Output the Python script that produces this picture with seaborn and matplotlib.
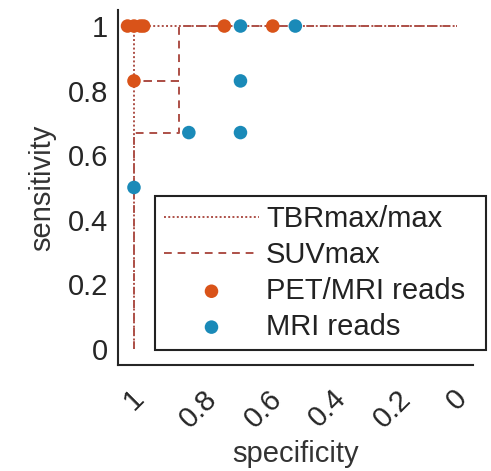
import matplotlib
matplotlib.use("Agg")
import matplotlib.pyplot as plt
import seaborn as sns
import pandas as pd

# ROC step curves (specificity, sensitivity)
tbr_spec = [1.0, 1.0, 0.0]
tbr_sens = [0.0, 1.0, 1.0]
suv_spec = [1.0, 1.0, 0.86, 0.86, 1.0, 0.86, 0.86, 0.0]
suv_sens = [0.0, 0.67, 0.67, 0.83, 0.83, 0.83, 1.0, 1.0]

# reader operating points
petmri_spec = [1.02, 1.0, 0.98, 0.97, 1.0, 0.72, 0.57]
petmri_sens = [1.0, 1.0, 1.0, 1.0, 0.83, 1.0, 1.0]
mri_spec = [0.67, 0.50, 0.67, 0.83, 0.67, 1.0]
mri_sens = [1.0, 1.0, 0.83, 0.67, 0.67, 0.5]

x_ticks = [1, 0.8, 0.6, 0.4, 0.2, 0]
y_ticks = [0, 0.2, 0.4, 0.6, 0.8, 1]

line_color = "#AD5048"
orange = "#D95319"
blue = "#1A8AB8"
fs = 21

sns.set_theme(style="white")
plt.rcParams["font.family"] = ["Liberation Sans", "DejaVu Sans"]

fig = plt.figure(figsize=(4.91, 4.71), dpi=100)
ax = fig.add_axes([0.240, 0.225, 0.723, 0.754])

tbr = pd.DataFrame({"spec": tbr_spec, "sens": tbr_sens})
suv = pd.DataFrame({"spec": suv_spec, "sens": suv_sens})
sns.lineplot(data=tbr, x="spec", y="sens", sort=False, estimator=None, ax=ax,
             color=line_color, linestyle=(0, (1, 1.2)), linewidth=1.4,
             label="TBRmax/max")
sns.lineplot(data=suv, x="spec", y="sens", sort=False, estimator=None, ax=ax,
             color=line_color, linestyle=(0, (4, 3)), linewidth=1.4,
             label="SUVmax")

pm = pd.DataFrame({"spec": petmri_spec, "sens": petmri_sens})
mr = pd.DataFrame({"spec": mri_spec, "sens": mri_sens})
sns.scatterplot(data=pm, x="spec", y="sens", ax=ax, color=orange, s=95,
                edgecolor="none", label="PET/MRI reads", zorder=3)
sns.scatterplot(data=mr, x="spec", y="sens", ax=ax, color=blue, s=95,
                edgecolor="none", label="MRI reads", zorder=3)

ax.set_xlim(1.05, -0.05)
ax.set_ylim(-0.05, 1.05)
ax.set_xticks(x_ticks)
ax.set_xticklabels([f"{t:g}" for t in x_ticks], rotation=45, ha="center")
ax.set_yticks(y_ticks)
ax.set_yticklabels([f"{t:g}" for t in y_ticks])
ax.tick_params(axis="both", direction="in", length=3, width=1,
               labelsize=fs, colors="#262626", pad=7)
ax.tick_params(axis="x", pad=14)
for lab in ax.get_xticklabels() + ax.get_yticklabels():
    lab.set_color("#262626")

ax.set_xlabel("specificity", fontsize=fs, color="#333333", labelpad=5)
ax.set_ylabel("sensitivity", fontsize=fs, color="#333333", labelpad=8)

for side in ["top", "right"]:
    ax.spines[side].set_visible(False)
for side in ["left", "bottom"]:
    ax.spines[side].set_color("#262626")
    ax.spines[side].set_linewidth(1.5)

leg = ax.legend(loc="lower left", bbox_to_anchor=(0.104, 0.042, 0.933, 0.44),
                mode="expand", fontsize=fs, handlelength=3.25,
                handletextpad=0.25, labelspacing=0.27, borderpad=0.32,
                fancybox=False, framealpha=1, edgecolor="#222222",
                borderaxespad=0)
leg.get_frame().set_linewidth(1.5)
for t in leg.get_texts():
    t.set_color("#222222")

fig.savefig("out.png", dpi=100)
